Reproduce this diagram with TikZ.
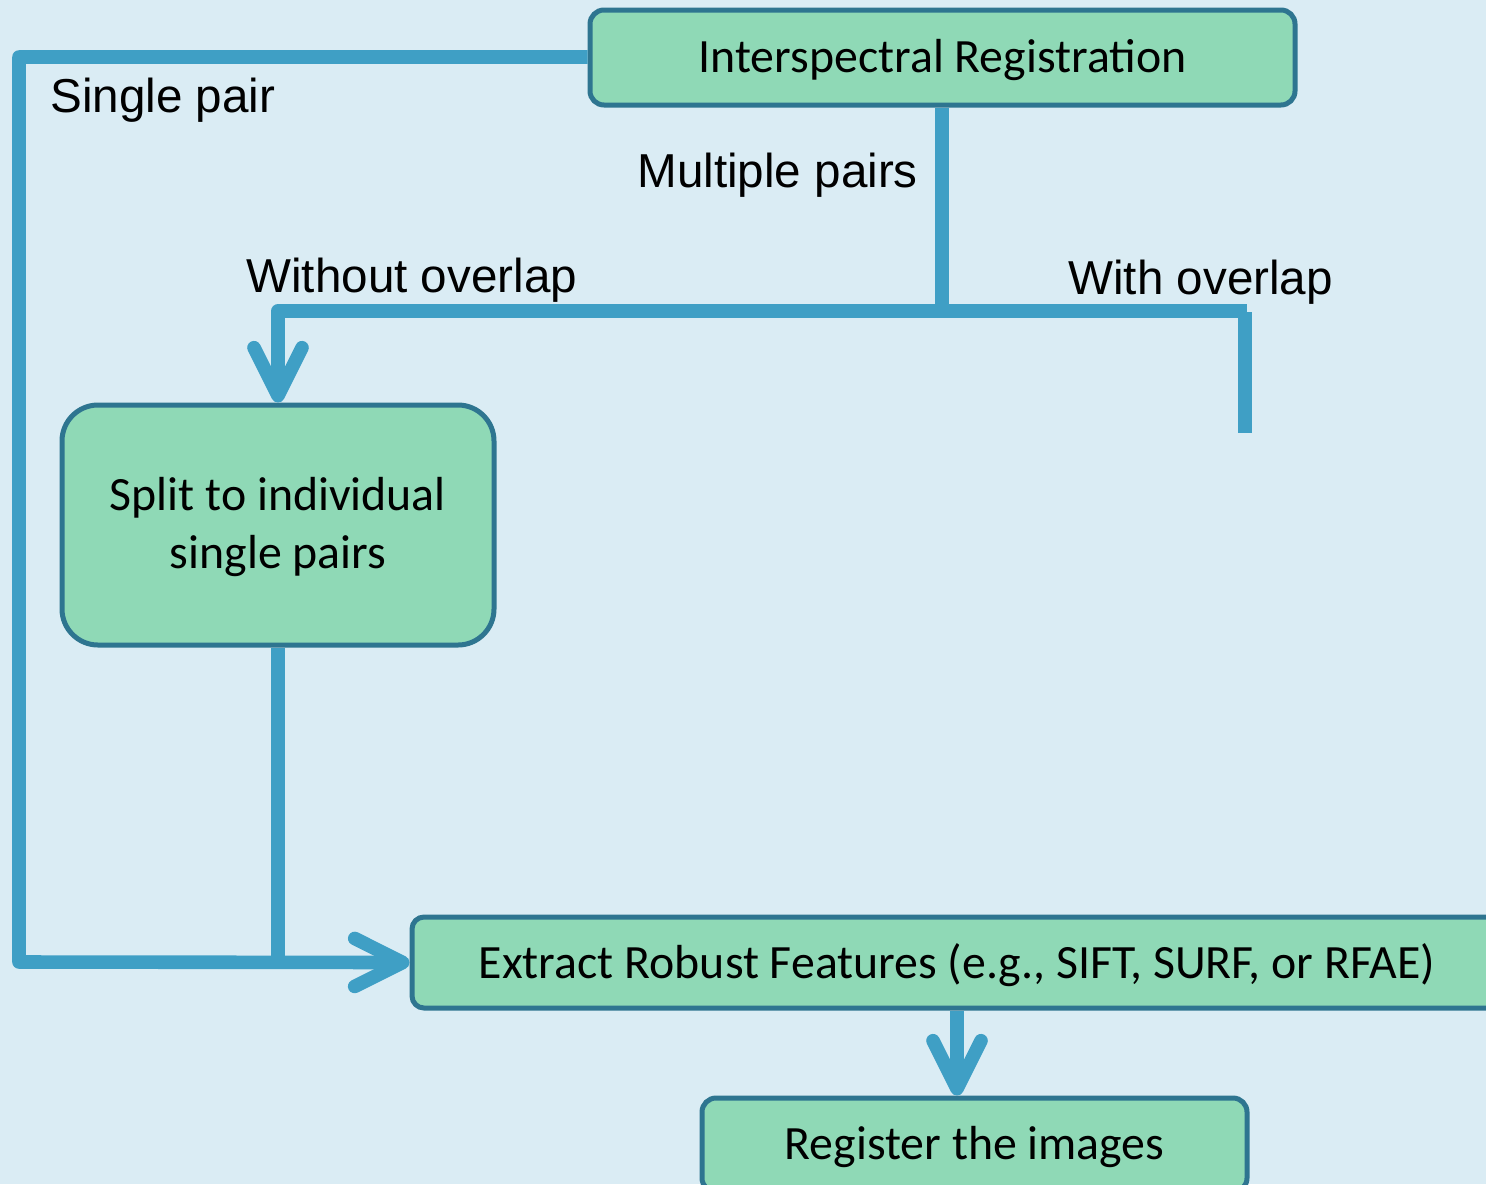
\documentclass[tikz,border=0pt]{standalone}
\usepackage{fontspec}
\setmainfont{Carlito}
\newfontfamily\arialf{Liberation Sans}
\usetikzlibrary{arrows.meta}
\definecolor{bgc}{RGB}{218,236,244}
\definecolor{linec}{RGB}{63,159,197}
\definecolor{boxfill}{RGB}{143,217,182}
\definecolor{boxdraw}{RGB}{46,117,144}
\tikzset{
  box/.style={draw=boxdraw, fill=boxfill, line width=2.5pt, inner sep=0pt, align=center,
    text depth=2pt, font=\fontsize{23.9pt}{29pt}\selectfont},
  conn/.style={draw=linec, line width=6.8pt, line join=round},
  arr/.style={conn, -{Straight Barb[length=24pt,width=24pt,round]}},
  lbl/.style={inner sep=0pt, anchor=base west, font=\arialf\fontsize{23.8pt}{28pt}\selectfont}
}
\begin{document}
\begin{tikzpicture}[x=0.5pt,y=-0.5pt]
\useasboundingbox (0,0) rectangle (1486,1184);
\clip (0,0) rectangle (1486,1184);
\fill[bgc] (0,0) rectangle (1486,1184);

% boxes
\node[box, rounded corners=7pt, minimum width=352.5pt, minimum height=47.5pt] (top) at (942.5,57.5) {Interspectral Registration};
\node[box, rounded corners=18pt, minimum width=216pt, minimum height=120pt] (split) at (278,525) {Split to individual\\single pairs};
\node[box, rounded corners=6pt, minimum width=545pt, minimum height=45.5pt] (extract) at (957,962.5) {Extract Robust Features (e.g., SIFT, SURF, or RFAE)};
\node[box, rounded corners=7pt, minimum width=272.5pt, minimum height=47pt] (reg) at (974.5,1145) {Register the images};

% coordinates
\coordinate (tl) at (19,57);
\coordinate (bl) at (19,962);
\coordinate (jn) at (942,311);
\coordinate (lc) at (278,311);
\coordinate (rc) at (1247,311);
\coordinate (rt) at (1245,312);
\coordinate (rb) at (1245,433);
\coordinate (sj) at (278,962);

% connectors
\draw[arr] (top.west |- tl) -- (tl) -- (bl) -- (extract.west);
\draw[conn] (split.south) -- (sj);
\draw[conn] (top.south -| jn) -- (jn);
\draw[arr] (jn) -- (lc) -- (split.north -| lc);
\draw[conn] (jn) -- (rc);
\draw[conn, line cap=butt] (rt) -- (rb);
\draw[arr] (extract.south -| 957,0) -- (reg.north -| 957,0);

% labels
\node[lbl] (l1) at (50,112) {Single pair};
\node[lbl] (l2) at (637,187) {Multiple pairs};
\node[lbl] (l3) at (246,292) {Without overlap};
\node[lbl] (l4) at (1068,294) {With overlap};
\end{tikzpicture}
\end{document}
